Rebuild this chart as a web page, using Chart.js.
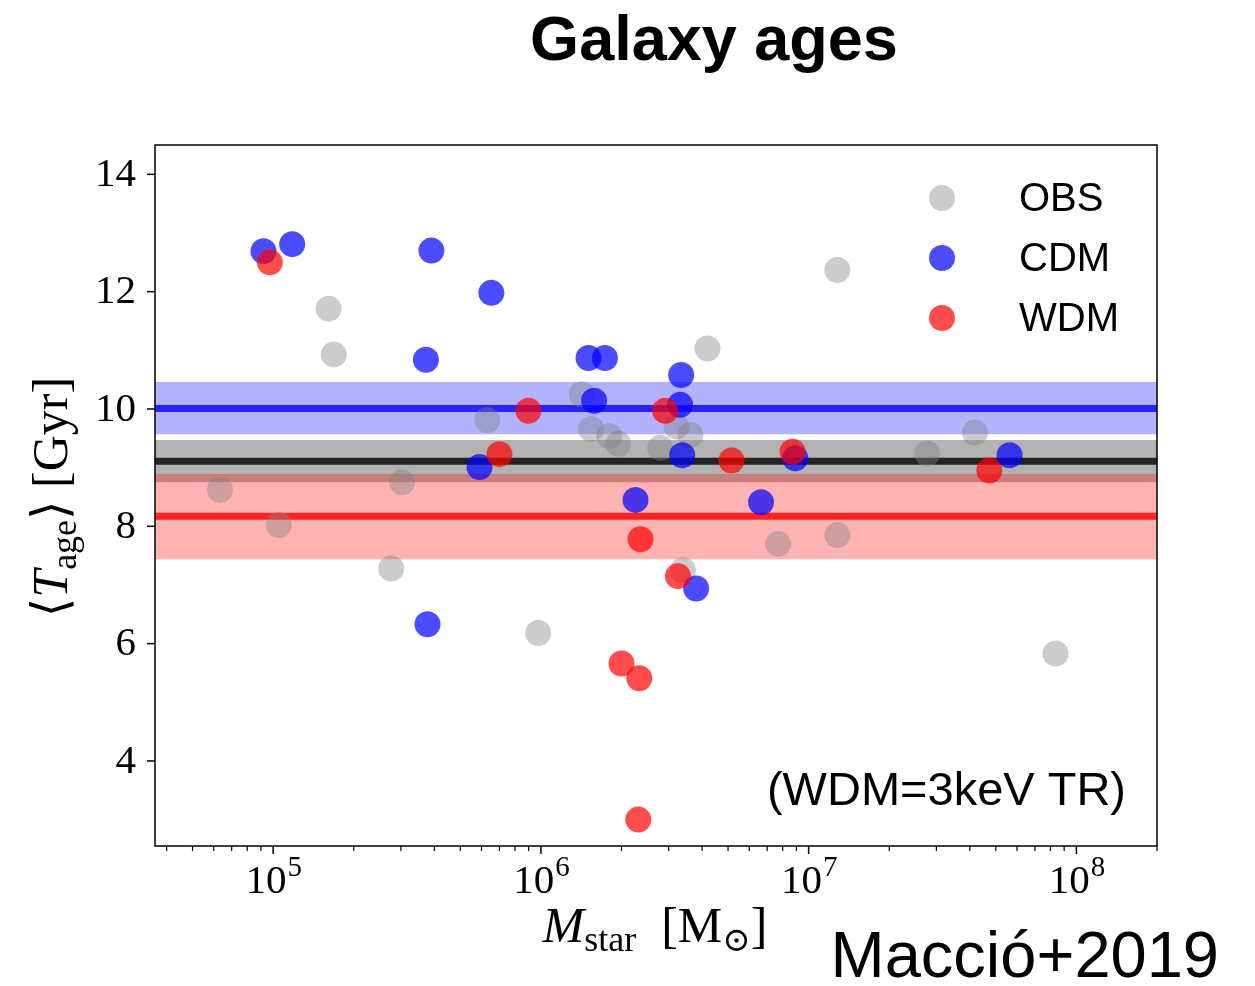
<!DOCTYPE html>
<html>
<head>
<meta charset="utf-8">
<script src="https://cdn.jsdelivr.net/npm/chart.js@4.4.0/dist/chart.umd.min.js"></script>
<style>
    html, body { margin: 0; padding: 0; background: #fff; }
</style>
</head>
<body>
<canvas id="galaxy-ages-chart" width="1255" height="986"></canvas>
<script>
/*
/----------------------------------------
/- galaxy ages vs stellar mass
/- id canvas = galaxy-ages-chart
/----------------------------------------
*/

// data (stellar mass in Msun, mean age in Gyr)
const obsMass = [6.33e4, 1.05e5, 1.61e5, 1.685e5, 2.76e5, 3.03e5, 6.3e5, 9.77e5, 1.42e6, 1.54e6, 1.8e6, 1.944e6, 2.79e6, 3.21e6, 3.62e6, 3.39e6, 4.19e6, 7.69e6, 1.28e7, 1.28e7, 2.77e7, 4.18e7, 8.36e7];
const obsAge = [8.62, 8.02, 11.71, 10.93, 7.28, 8.75, 9.81, 6.18, 10.25, 9.66, 9.54, 9.41, 9.34, 9.70, 9.56, 7.25, 11.03, 7.70, 12.37, 7.85, 9.24, 9.60, 5.83];

const cdmMass = [9.2e4, 1.178e5, 3.9e5, 6.53e5, 3.72e5, 1.506e6, 1.734e6, 1.58e6, 5.9e5, 2.256e6, 3.77e5, 3.34e6, 3.31e6, 3.37e6, 8.91e6, 6.64e6, 3.8e6, 5.63e7];
const cdmAge = [12.69, 12.81, 12.70, 11.98, 10.84, 10.87, 10.87, 10.14, 9.01, 8.45, 6.33, 10.58, 10.07, 9.21, 9.16, 8.41, 6.94, 9.21];

const wdmMass = [9.72e4, 8.98e5, 7.0e5, 2.355e6, 2.0e6, 2.33e6, 2.31e6, 2.91e6, 5.15e6, 8.71e6, 3.25e6, 4.73e7];
const wdmAge = [12.50, 9.97, 9.23, 7.78, 5.66, 5.41, 3.00, 9.97, 9.12, 9.27, 7.15, 8.95];

// mean age and scatter band per sample: OBS, CDM, WDM
const sampleNames = ["OBS", "CDM", "WDM"];
const bandMean = [9.11, 10.01, 8.17];
const bandLow = [8.75, 9.57, 7.44];
const bandHigh = [9.47, 10.46, 8.89];

// axis ticks
const xTickValues = [1e5, 1e6, 1e7, 1e8];
const xTickExponents = ["5", "6", "7", "8"];
const yTickValues = [4, 6, 8, 10, 12, 14];

// axis limits
const xMin = 3.62e4;
const xMax = 2.0e8;
const yMin = 2.55;
const yMax = 14.5;

const pointColors = ["rgba(128,128,128,0.4)", "rgba(0,0,255,0.7)", "rgba(255,0,0,0.7)"];
const lineColors = ["rgba(0,0,0,0.8)", "rgba(0,0,255,0.8)", "rgba(255,0,0,0.8)"];
const bandColors = ["rgba(0,0,0,0.3)", "rgba(0,0,255,0.3)", "rgba(255,0,0,0.3)"];

const serif = '"Liberation Serif", "DejaVu Serif", serif';
const sans = '"Liberation Sans", Arial, Helvetica, sans-serif';

function toPoints(xs, ys) {
    return xs.map((x, i) => ({ x: x, y: ys[i] }));
}
function flat(v) {
    return [{ x: xMin, y: v }, { x: xMax, y: v }];
}

// setup chart (first dataset is drawn on top)
const datasetsGalaxy = [];
datasetsGalaxy.push({ label: "WDM", data: toPoints(wdmMass, wdmAge), backgroundColor: pointColors[2], borderWidth: 0, pointRadius: 13 });
datasetsGalaxy.push({ label: "CDM", data: toPoints(cdmMass, cdmAge), backgroundColor: pointColors[1], borderWidth: 0, pointRadius: 13 });
datasetsGalaxy.push({ label: "OBS", data: toPoints(obsMass, obsAge), backgroundColor: pointColors[0], borderWidth: 0, pointRadius: 13 });

// mean lines
[2, 1, 0].forEach((i) => {
    datasetsGalaxy.push({
        type: "line",
        label: sampleNames[i] + " mean",
        data: flat(bandMean[i]),
        borderColor: lineColors[i],
        borderWidth: 7,
        pointRadius: 0,
        fill: false,
    });
});

// bands: upper edge, then lower edge filled back to it
[2, 1, 0].forEach((i) => {
    datasetsGalaxy.push({
        type: "line",
        label: sampleNames[i] + " high",
        data: flat(bandHigh[i]),
        borderColor: "rgba(0,0,0,0)",
        pointRadius: 0,
        fill: false,
    });
    datasetsGalaxy.push({
        type: "line",
        label: sampleNames[i] + " low",
        data: flat(bandLow[i]),
        borderColor: "rgba(0,0,0,0)",
        backgroundColor: bandColors[i],
        pointRadius: 0,
        fill: "-1",
    });
});

// frame, ticks, labels, legend and texts
const decorPlugin = {
    id: "decor",
    afterDraw(chart) {
        const ctx = chart.ctx;
        const area = chart.chartArea;
        const xs = chart.scales.x;
        const ys = chart.scales.y;
        ctx.save();
        ctx.strokeStyle = "#000";
        ctx.fillStyle = "#000";

        // frame
        ctx.lineWidth = 1.5;
        ctx.strokeRect(area.left, area.top, area.right - area.left, area.bottom - area.top);

        // y ticks
        ctx.font = "41px " + serif;
        ctx.textAlign = "right";
        ctx.textBaseline = "middle";
        yTickValues.forEach((v) => {
            const py = ys.getPixelForValue(v);
            ctx.beginPath();
            ctx.moveTo(area.left - 8, py);
            ctx.lineTo(area.left, py);
            ctx.stroke();
            ctx.fillText(String(v), area.left - 19, py + 1);
        });

        // x minor ticks
        ctx.lineWidth = 1.2;
        for (let e = 4; e <= 8; e++) {
            for (let m = 2; m <= 9; m++) {
                const v = m * Math.pow(10, e);
                if (v < xMin || v > xMax) continue;
                const px = xs.getPixelForValue(v);
                ctx.beginPath();
                ctx.moveTo(px, area.bottom);
                ctx.lineTo(px, area.bottom + 5);
                ctx.stroke();
            }
        }

        // x major ticks with 10^n labels
        ctx.lineWidth = 1.5;
        ctx.textAlign = "left";
        ctx.textBaseline = "alphabetic";
        xTickValues.forEach((v, i) => {
            const px = xs.getPixelForValue(v);
            ctx.beginPath();
            ctx.moveTo(px, area.bottom);
            ctx.lineTo(px, area.bottom + 8);
            ctx.stroke();
            ctx.font = "41px " + serif;
            const wBase = ctx.measureText("10").width;
            ctx.font = "29px " + serif;
            const wSup = ctx.measureText(xTickExponents[i]).width;
            const x0 = px - (wBase + wSup) / 2;
            ctx.font = "41px " + serif;
            ctx.fillText("10", x0, 893);
            ctx.font = "29px " + serif;
            ctx.fillText(xTickExponents[i], x0 + wBase + 1, 876);
        });

        // x axis title: M_star [M_sun]
        const xParts = [
            { t: "M", f: "italic 50px " + serif, dy: 0 },
            { t: "star", f: "36px " + serif, dy: 9 },
            { t: "  [M", f: "50px " + serif, dy: 0 },
            { t: "\u2299", f: "34px " + serif, dy: 9 },
            { t: "]", f: "50px " + serif, dy: 0 },
        ];
        let total = 0;
        xParts.forEach((p) => { ctx.font = p.f; p.w = ctx.measureText(p.t).width; total += p.w; });
        let cx = 655 - total / 2;
        xParts.forEach((p) => { ctx.font = p.f; ctx.fillText(p.t, cx, 942 + p.dy); cx += p.w; });

        // y axis title: <T_age> [Gyr]
        const yParts = [
            { t: "\u27E8", f: "50px " + serif, dy: 0 },
            { t: "T", f: "italic 50px " + serif, dy: 0 },
            { t: "age", f: "36px " + serif, dy: 9 },
            { t: "\u27E9", f: "50px " + serif, dy: 0 },
            { t: " [Gyr]", f: "50px " + serif, dy: 0 },
        ];
        total = 0;
        yParts.forEach((p) => { ctx.font = p.f; p.w = ctx.measureText(p.t).width; total += p.w; });
        ctx.save();
        ctx.translate(67, 497);
        ctx.rotate(-Math.PI / 2);
        let cy = -total / 2;
        yParts.forEach((p) => { ctx.font = p.f; ctx.fillText(p.t, cy, p.dy); cy += p.w; });
        ctx.restore();

        // legend
        const legendY = [198, 258, 318];
        ctx.font = "40px " + sans;
        ctx.textBaseline = "middle";
        sampleNames.forEach((name, i) => {
            ctx.fillStyle = pointColors[i];
            ctx.beginPath();
            ctx.arc(942, legendY[i], 13, 0, Math.PI * 2);
            ctx.fill();
            ctx.fillStyle = "#000";
            ctx.fillText(name, 1019, legendY[i] + 2);
        });

        // texts
        ctx.textBaseline = "alphabetic";
        ctx.textAlign = "right";
        ctx.font = "47px " + sans;
        ctx.fillText("(WDM=3keV TR)", 1126, 805);

        ctx.font = "65px " + sans;
        ctx.fillText("Macció+2019", 1219, 977);

        ctx.textAlign = "center";
        ctx.font = "bold 63px " + sans;
        ctx.fillText("Galaxy ages", 714, 60);

        ctx.restore();
    },
};

// config
const configGalaxy = {
    type: "scatter",
    data: { datasets: datasetsGalaxy },
    options: {
        responsive: false,
        animation: false,
        layout: {
            padding: { left: 155, top: 145, right: 98, bottom: 140 },
        },
        plugins: {
            legend: { display: false },
            tooltip: { enabled: false },
        },
        scales: {
            x: {
                type: "logarithmic",
                min: xMin,
                max: xMax,
                grid: { display: false, drawTicks: false },
                border: { display: false },
                ticks: { display: false },
                afterFit: (scale) => { scale.height = 0; },
            },
            y: {
                type: "linear",
                min: yMin,
                max: yMax,
                grid: { display: false, drawTicks: false },
                border: { display: false },
                ticks: { display: false },
                afterFit: (scale) => { scale.width = 0; },
            },
        },
    },
    plugins: [decorPlugin],
};

// render init block
const ctxGalaxy = document.getElementById("galaxy-ages-chart");
new Chart(ctxGalaxy, configGalaxy);
</script>
</body>
</html>
